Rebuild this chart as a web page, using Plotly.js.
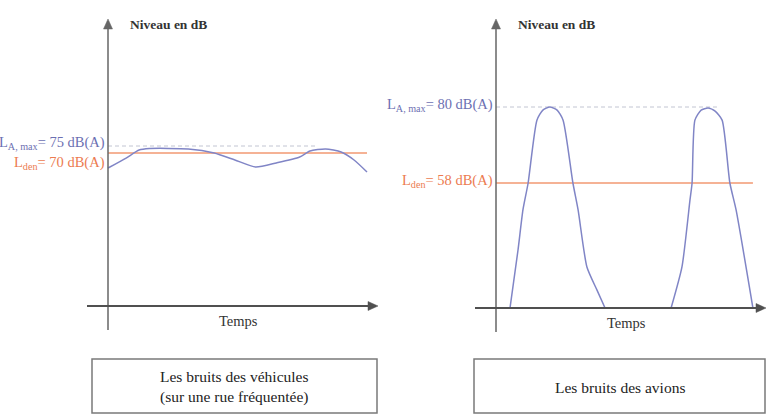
<!DOCTYPE html>
<html>
<head>
<meta charset="utf-8">
<script src="https://cdn.plot.ly/plotly-3.0.1.min.js"></script>
<style>
  html, body { margin: 0; padding: 0; background: #fff; }
  #chart { width: 770px; height: 416px; }
</style>
</head>
<body>
<div id="chart"></div>
<script>
// Vehicle noise (busy street): time in arbitrary units, level in dB(A)
var vehTime = [0, 7, 12, 16, 31, 41, 49, 57, 65, 74, 78, 84, 90, 95, 100]
var vehLevel = [59.3, 66.4, 72.1, 73.2, 72.9, 70, 65, 60, 62.9, 67.1, 71.4, 72.9, 70.7, 65, 56.4]
var vehLAmax = 75
var vehLden = 70
var vehLAmaxSpan = [0, 81]
var vehLdenSpan = [0, 100]

// Aircraft noise: two fly-overs (null = back on the time axis between them)
var avTime = [5.4, 8.5, 10.4, 12.4, 15.8, 18.1, 20.8, 23.6, 25.9, 29.7, 31.7, 35.1, 39, 42.1,
    null, 67.6, 71.8, 74.9, 75.7, 76.8, 79.2, 81.9, 84.6, 87.3, 90.3, 92.7, 99.2]
var avLevel = [21.8, 38.6, 50.2, 58, 76.2, 79.1, 80, 79.1, 76.2, 58, 50.2, 33.7, 27, 21.8,
    null, 21.8, 33.7, 53.1, 58, 76.2, 79.1, 79.7, 78.8, 76.2, 58, 50.2, 21.8]
var avLAmax = 80
var avLden = 58
var avLAmaxSpan = [0, 85.3]
var avLdenSpan = [0, 99.2]

var axisLabelY = 'Niveau en dB'
var axisLabelX = 'Temps'
var boxTextVeh = 'Les bruits des véhicules<br>(sur une rue fréquentée)'
var boxTextAv = 'Les bruits des avions'

// page geometry (pixels), used to place the invisible axes
var W = 770, H = 416
var pxPerT = 2.59
function px (x) { return x / W }
function py (y) { return 1 - y / H }

var serif = '"Liberation Serif", "Times New Roman", serif'
var blue = '#8085c6'
var orange = '#f29872'
var dashGrey = '#c2c5d2'
var axisGrey = '#505050'

// left panel: origin at x=108px, 75 dB at 146px, 1.4 px per dB
var L = { x0: 108, yRef: 146, vRef: 75, pxPerDb: 1.4 }
// right panel: origin at x=496px, 80 dB at 107px, 76 px for 22 dB
var R = { x0: 496, yRef: 107, vRef: 80, pxPerDb: 76 / 22 }

function tAt (p, xpx) { return (xpx - p.x0) / pxPerT }
function dbAt (p, ypx) { return p.vRef - (ypx - p.yRef) / p.pxPerDb }

var hidden = { visible: false, fixedrange: true }

var layout = {
    width: W,
    height: H,
    margin: { l: 0, r: 0, t: 0, b: 0 },
    paper_bgcolor: '#fff',
    plot_bgcolor: 'rgba(0,0,0,0)',
    showlegend: false,
    font: { family: serif, size: 13, color: '#222' },
    xaxis: Object.assign({ domain: [px(80), px(380)], range: [tAt(L, 80), tAt(L, 380)] }, hidden),
    yaxis: Object.assign({ domain: [py(340), py(10)], range: [dbAt(L, 340), dbAt(L, 10)] }, hidden),
    xaxis2: Object.assign({ domain: [px(470), px(770)], range: [tAt(R, 470), tAt(R, 770)], anchor: 'y2' }, hidden),
    yaxis2: Object.assign({ domain: [py(340), py(10)], range: [dbAt(R, 340), dbAt(R, 10)], anchor: 'x2' }, hidden),
    shapes: [],
    annotations: []
}

// straight line plus filled triangle head, all given in pixels of the page
function axisArrow (x0, y0, x1, y1, width, color) {
    var dx = x1 - x0, dy = y1 - y0
    var len = Math.sqrt(dx * dx + dy * dy)
    var ux = dx / len, uy = dy / len
    var hl = 10, hw = 4.5
    var bx = x1 - ux * hl, by = y1 - uy * hl
    var path = 'M' + px(x1) + ',' + py(y1) +
        'L' + px(bx - uy * hw) + ',' + py(by + ux * hw) +
        'L' + px(bx + uy * hw) + ',' + py(by - ux * hw) + 'Z'
    layout.shapes.push(
        {
            type: 'line', xref: 'paper', yref: 'paper',
            x0: px(x0), y0: py(y0), x1: px(bx), y1: py(by),
            line: { color: color, width: width }
        },
        {
            type: 'path', xref: 'paper', yref: 'paper', path: path,
            fillcolor: color, line: { color: color, width: 0.5 }
        }
    )
}

function panel (p, xr, yr, time, level, laMax, lden, laSpan, ldSpan, baseY, botY, boxL, boxR, boxText) {
    axisArrow(p.x0, botY, p.x0, 19, 1.5, '#666')
    axisArrow(p.x0 - 21, baseY, p.x0 + 270, baseY, 2, axisGrey)
    layout.annotations.push(
        {
            xref: 'paper', yref: 'paper', x: px(p.x0 + 20), y: py(24), xanchor: 'left', yanchor: 'middle',
            text: '<b>' + axisLabelY + '</b>', showarrow: false, font: { size: 13.5, color: '#333' }
        },
        {
            xref: 'paper', yref: 'paper', x: px(p.x0 + 130), y: py(baseY + 15), xanchor: 'center', yanchor: 'middle',
            text: axisLabelX, showarrow: false, font: { size: 14.5, color: '#333' }
        },
        {
            xref: 'paper', yref: 'paper', x: px((boxL + boxR) / 2), y: py(387), xanchor: 'center', yanchor: 'middle',
            text: boxText, showarrow: false, font: { size: 15.5, color: '#222' }
        }
    )
    layout.shapes.push({
        type: 'rect', xref: 'paper', yref: 'paper',
        x0: px(boxL), x1: px(boxR), y0: py(413), y1: py(359),
        line: { color: '#7a7a7a', width: 1.5 }, fillcolor: 'rgba(0,0,0,0)'
    })
    return [
        {
            x: laSpan, y: [laMax, laMax], xaxis: xr, yaxis: yr, mode: 'lines',
            line: { color: dashGrey, width: 1, dash: '4px,3px' }, hoverinfo: 'skip'
        },
        {
            x: ldSpan, y: [lden, lden], xaxis: xr, yaxis: yr, mode: 'lines',
            line: { color: orange, width: 1.6 }, hoverinfo: 'skip'
        },
        {
            x: time, y: level, xaxis: xr, yaxis: yr, mode: 'lines', connectgaps: false,
            line: { color: blue, width: 1.5, shape: 'spline', smoothing: 0.6 }, hoverinfo: 'skip'
        }
    ]
}

var traces = [].concat(
    panel(L, 'x', 'y', vehTime, vehLevel, vehLAmax, vehLden, vehLAmaxSpan, vehLdenSpan, 306, 330, 92, 377, boxTextVeh),
    panel(R, 'x2', 'y2', avTime, avLevel, avLAmax, avLden, avLAmaxSpan, avLdenSpan, 308, 332, 474, 765, boxTextAv)
)

// level labels next to the y axes
function levelLabel (xr, yr, v, txt, color, shift) {
    return {
        xref: xr, yref: yr, x: 0, y: v, xanchor: 'right', yanchor: 'middle', xshift: -1, yshift: shift,
        text: txt, showarrow: false, font: { size: 14.5, color: color }
    }
}
layout.annotations.push(
    levelLabel('x', 'y', vehLAmax, 'L<sub>A, max</sub>= ' + vehLAmax + ' dB(A)', '#6c70b2', 3),
    levelLabel('x', 'y', vehLden, 'L<sub>den</sub>= ' + vehLden + ' dB(A)', '#ec7b50', -10),
    levelLabel('x2', 'y2', avLAmax, 'L<sub>A, max</sub>= ' + avLAmax + ' dB(A)', '#6c70b2', 2),
    levelLabel('x2', 'y2', avLden, 'L<sub>den</sub>= ' + avLden + ' dB(A)', '#ec7b50', 2)
)

Plotly.newPlot('chart', traces, layout, { staticPlot: true, displayModeBar: false })
</script>
</body>
</html>
